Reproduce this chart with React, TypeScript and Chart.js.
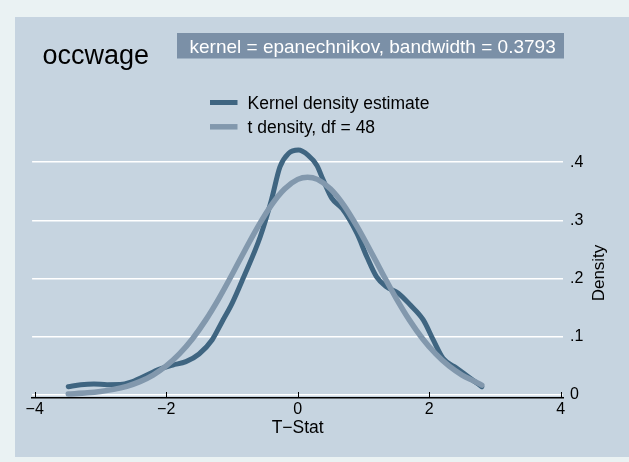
import React, { useEffect, useRef } from 'react';
import { Chart, registerables } from 'chart.js';

Chart.register(...registerables);

// ---- data ----
const kdeX = [-3.49, -3.3, -3.1, -2.9, -2.7, -2.55, -2.35, -2.1, -1.9, -1.7, -1.5, -1.3, -1.15, -1.0, -0.83, -0.57, -0.4, -0.27, -0.14, 0.01, 0.16, 0.29, 0.39, 0.52, 0.68, 0.9, 1.05, 1.2, 1.35, 1.53, 1.71, 1.91, 2.06, 2.21, 2.42, 2.62, 2.8];
const kdeY = [0.0143, 0.0175, 0.0188, 0.0178, 0.018, 0.0215, 0.0314, 0.0447, 0.0515, 0.0573, 0.0705, 0.095, 0.126, 0.157, 0.2005, 0.272, 0.335, 0.392, 0.415, 0.421, 0.412, 0.395, 0.369, 0.338, 0.32, 0.278, 0.238, 0.203, 0.186, 0.175, 0.155, 0.129, 0.095, 0.063, 0.046, 0.029, 0.0143];

const tX = [-3.49, -3.2, -3.0, -2.8, -2.6, -2.4, -2.2, -2.0, -1.8, -1.6, -1.4, -1.2, -1.0, -0.8, -0.6, -0.4, -0.2, 0, 0.15, 0.3, 0.5, 0.7, 0.9, 1.1, 1.3, 1.5, 1.7, 1.9, 2.1, 2.3, 2.5, 2.7, 2.8];
const tY = [0.0017, 0.0037, 0.006, 0.0096, 0.015, 0.023, 0.0343, 0.0499, 0.0706, 0.0967, 0.1287, 0.1658, 0.2068, 0.2493, 0.2903, 0.3265, 0.3541, 0.3706, 0.3744, 0.3706, 0.3541, 0.3265, 0.2903, 0.2493, 0.2068, 0.1658, 0.1287, 0.0967, 0.0706, 0.0499, 0.0343, 0.023, 0.017];

const xTicks = [-4, -2, 0, 2, 4];
const xTickLabels = ['\u22124', '\u22122', '0', '2', '4'];
const yTicks = [0, 0.1, 0.2, 0.3, 0.4];
const yTickLabels = ['0', '.1', '.2', '.3', '.4'];

const titleText = 'occwage';
const subtitleText = 'kernel = epanechnikov, bandwidth = 0.3793';
const seriesLabels = ['Kernel density estimate', 't density, df = 48'];
const xTitle = 'T\u2212Stat';
const yTitle = 'Density';

// ---- styles ----
const FONT = '"Liberation Sans", Arial, Helvetica, sans-serif';
const OUTER_BG = '#eaf2f3';
const PANEL_BG = '#c6d4e0';
const BOX_BG = '#7b90a7';
const DARK = '#3f6581';
const LIGHT = '#8298ad';

export default function App() {
  const ref = useRef<HTMLCanvasElement>(null);

  useEffect(() => {
    const canvas = ref.current;
    if (!canvas) return;

    const decor = {
      id: 'decor',
      beforeDraw(chart: any) {
        const ctx = chart.ctx;
        ctx.save();
        ctx.fillStyle = OUTER_BG;
        ctx.fillRect(0, 0, chart.width, chart.height);
        ctx.fillStyle = PANEL_BG;
        ctx.fillRect(15, 17, chart.width - 15, 457 - 17);
        ctx.restore();
      },
      afterDraw(chart: any) {
        const ctx = chart.ctx;
        const xs = chart.scales.x;
        const area = chart.chartArea;
        ctx.save();
        // inward x ticks
        ctx.strokeStyle = '#000';
        ctx.lineWidth = 1;
        xTicks.forEach((v) => {
          const px = Math.round(xs.getPixelForValue(v)) + 0.5;
          ctx.beginPath();
          ctx.moveTo(px, area.bottom - 6);
          ctx.lineTo(px, area.bottom);
          ctx.stroke();
        });
        // title
        ctx.fillStyle = '#000';
        ctx.textAlign = 'left';
        ctx.textBaseline = 'alphabetic';
        ctx.font = `27px ${FONT}`;
        ctx.fillText(titleText, 42.5, 63.5);
        // subtitle box
        ctx.fillStyle = BOX_BG;
        ctx.fillRect(177, 33, 387, 25.5);
        ctx.fillStyle = '#fff';
        ctx.font = `19px ${FONT}`;
        ctx.fillText(subtitleText, 189.5, 53.3);
        // legend
        const colors = [DARK, LIGHT];
        const widths = [5, 5.5];
        const ly = [102.5, 126.8];
        ctx.font = `17.5px ${FONT}`;
        for (let i = 0; i < 2; i++) {
          ctx.strokeStyle = colors[i];
          ctx.lineWidth = widths[i];
          ctx.lineCap = 'butt';
          ctx.beginPath();
          ctx.moveTo(210, ly[i]);
          ctx.lineTo(237.5, ly[i]);
          ctx.stroke();
          ctx.fillStyle = '#000';
          ctx.fillText(seriesLabels[i], 247.5, ly[i] + 6.5);
        }
        // x title
        ctx.textAlign = 'center';
        ctx.font = `17.5px ${FONT}`;
        ctx.fillText(xTitle, (area.left + area.right) / 2, 433.3);
        // y title rotated
        ctx.translate(604, 273);
        ctx.rotate(-Math.PI / 2);
        ctx.font = `17px ${FONT}`;
        ctx.fillText(yTitle, 0, 0);
        ctx.restore();
      },
    };

    const chart = new Chart(canvas, {
      type: 'line',
      data: {
        datasets: [
          {
            label: seriesLabels[0],
            data: kdeX.map((x, i) => ({ x, y: kdeY[i] })),
            borderColor: DARK,
            borderWidth: 5,
            pointRadius: 0,
            fill: false,
            cubicInterpolationMode: 'monotone',
            borderCapStyle: 'round',
            borderJoinStyle: 'round',
            order: 1,
          },
          {
            label: seriesLabels[1],
            data: tX.map((x, i) => ({ x, y: tY[i] })),
            borderColor: LIGHT,
            borderWidth: 5.5,
            pointRadius: 0,
            fill: false,
            cubicInterpolationMode: 'monotone',
            borderCapStyle: 'round',
            borderJoinStyle: 'round',
            order: 0,
          },
        ],
      },
      options: {
        responsive: false,
        animation: false,
        devicePixelRatio: 1,
        layout: { padding: { left: 32.1, top: 133.2, right: 0, bottom: 0 } },
        plugins: {
          legend: { display: false },
          tooltip: { enabled: false },
          title: { display: false },
        },
        scales: {
          x: {
            type: 'linear',
            min: -4.04,
            max: 4.04,
            afterBuildTicks: (s: any) => {
              s.ticks = xTicks.map((v) => ({ value: v }));
            },
            afterFit: (s: any) => {
              s.height = 64;
            },
            grid: { display: false, drawTicks: false },
            border: { display: true, color: '#000', width: 1.5 },
            ticks: {
              padding: 2,
              color: '#000',
              font: { family: FONT, size: 16 },
              maxRotation: 0,
              autoSkip: false,
              callback: (v: any) => {
                const i = xTicks.indexOf(Number(v));
                return i >= 0 ? xTickLabels[i] : '';
              },
            },
          },
          y: {
            type: 'linear',
            position: 'right',
            min: -0.00516,
            max: 0.45,
            afterBuildTicks: (s: any) => {
              s.ticks = yTicks.map((v) => ({ value: v }));
            },
            afterFit: (s: any) => {
              s.width = 65.7;
            },
            grid: { color: '#ffffff', lineWidth: 1.6, drawTicks: false },
            border: { display: false },
            ticks: {
              padding: 6.7,
              color: '#000',
              font: { family: FONT, size: 16 },
              autoSkip: false,
              callback: (v: any) => {
                const i = yTicks.indexOf(Number(v));
                return i >= 0 ? yTickLabels[i] : '';
              },
            },
          },
        },
      },
      plugins: [decor],
    } as any);

    return () => {
      chart.destroy();
    };
  }, []);

  return (
    <div style={{ position: 'fixed', left: 0, top: 0, width: 629, height: 462 }}>
      <canvas ref={ref} width={629} height={462} style={{ display: 'block' }} />
    </div>
  );
}
